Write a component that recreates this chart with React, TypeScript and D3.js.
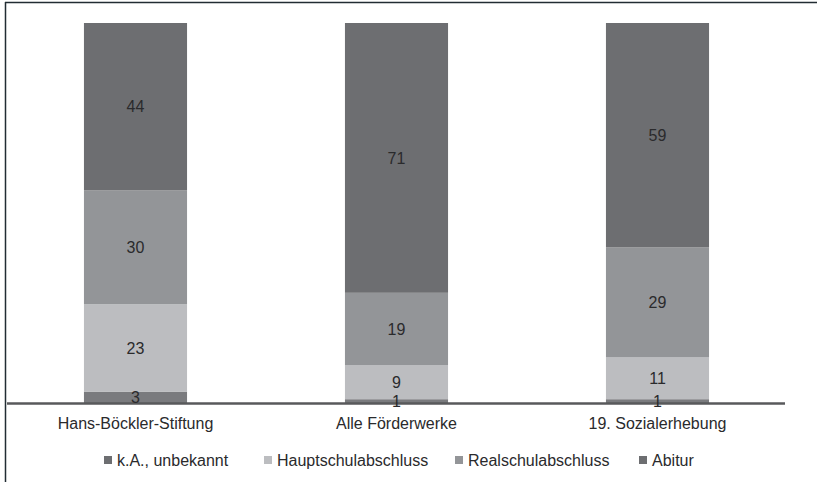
import React from "react";
import * as d3 from "d3";

const categories = ["Hans-Böckler-Stiftung", "Alle Förderwerke", "19. Sozialerhebung"];
const seriesNames = ["k.A., unbekannt", "Hauptschulabschluss", "Realschulabschluss", "Abitur"];
const kaValues = [3, 1, 1];
const hauptValues = [23, 9, 11];
const realValues = [30, 19, 29];
const abiturValues = [44, 71, 59];
const colors = ["#7a7b7e", "#bcbdc0", "#939598", "#6d6e71"];

const W = 817;
const H = 482;

export default function App() {
  const seriesValues = [kaValues, hauptValues, realValues, abiturValues];
  const rows = categories.map((c, i) => {
    const r: any = { cat: c };
    seriesNames.forEach((s, j) => (r[s] = seriesValues[j][i]));
    return r;
  });
  const stack = d3.stack<any>().keys(seriesNames)(rows);
  const x = d3.scaleBand().domain(categories).range([5, 788]).paddingInner(0.605).paddingOuter(0.3025);
  const y = d3.scaleLinear().domain([0, 100]).range([403, 23]);
  const font = "'Liberation Sans', Arial, sans-serif";

  const legendX = [104, 264, 455, 639];

  return (
    <svg width={W} height={H} style={{ position: "absolute", left: 0, top: 0, background: "#fff" }} fontFamily={font}>
      <line x1={5} y1={2.5} x2={W} y2={2.5} stroke="#222c33" strokeWidth={1.5} />
      <line x1={5.5} y1={2} x2={5.5} y2={H} stroke="#222c33" strokeWidth={1.5} />
      {stack.map((layer, j) => (
        <g key={j}>
          {layer.map((d, i) => (
            <rect
              key={i}
              x={x(categories[i])}
              width={x.bandwidth()}
              y={y(d[1])}
              height={y(d[0]) - y(d[1])}
              fill={colors[j]}
            />
          ))}
        </g>
      ))}
      <line x1={7} x2={785} y1={403.5} y2={403.5} stroke="#58595b" strokeWidth={2.5} />
      {stack.map((layer, j) => (
        <g key={"l" + j}>
          {layer.map((d, i) => (
            <text
              key={i}
              x={(x(categories[i]) as number) + x.bandwidth() / 2}
              y={(y(d[0]) + y(d[1])) / 2}
              dy="0.36em"
              textAnchor="middle"
              fontSize={16}
              fill="#2a2a2c"
            >
              {seriesValues[j][i]}
            </text>
          ))}
        </g>
      ))}
      {categories.map((c) => (
        <text
          key={c}
          x={(x(c) as number) + x.bandwidth() / 2}
          y={423}
          dy="0.36em"
          textAnchor="middle"
          fontSize={16}
          fill="#2a2a2c"
        >
          {c}
        </text>
      ))}
      {seriesNames.map((s, j) => (
        <g key={s} transform={`translate(${legendX[j]},460)`}>
          <rect x={0} y={-4} width={8} height={8} fill={colors[j === 0 ? 3 : j]} />
          <text x={13} y={0} dy="0.36em" fontSize={16} fill="#2a2a2c">
            {s}
          </text>
        </g>
      ))}
    </svg>
  );
}
